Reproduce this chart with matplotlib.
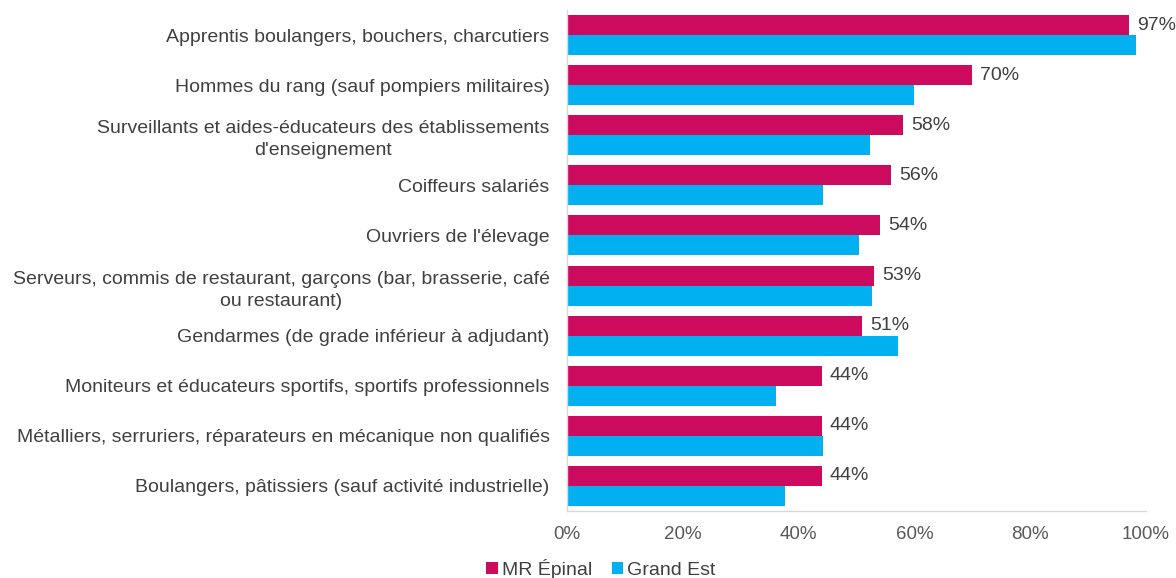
import matplotlib.pyplot as plt
import numpy as np

plt.rcParams['font.family'] = ['Liberation Sans', 'DejaVu Sans']

# données
categories = [
    "Apprentis boulangers, bouchers, charcutiers",
    "Hommes du rang (sauf pompiers militaires)",
    "Surveillants et aides-éducateurs des établissements\nd'enseignement",
    "Coiffeurs salariés",
    "Ouvriers de l'élevage",
    "Serveurs, commis de restaurant, garçons (bar, brasserie, café\nou restaurant)",
    "Gendarmes (de grade inférieur à adjudant)",
    "Moniteurs et éducateurs sportifs, sportifs professionnels",
    "Métalliers, serruriers, réparateurs en mécanique non qualifiés",
    "Boulangers, pâtissiers (sauf activité industrielle)",
]
mr_epinal = [97, 70, 58, 56, 54, 53, 51, 44, 44, 44]
grand_est = [98.3, 59.9, 52.4, 44.2, 50.4, 52.7, 57.2, 36.1, 44.3, 37.7]
series_names = ["MR Épinal", "Grand Est"]

col_mr = '#CC0A5E'
col_ge = '#00B0F0'
txt = '#404040'

fig = plt.figure(figsize=(11.76, 5.78), dpi=100)
ax = fig.add_axes([567/1176, 1 - 511/578, (1146 - 567)/1176, (511 - 10)/578])

y = np.arange(len(categories))
h = 0.4
ax.barh(y - h/2, mr_epinal, height=h, color=col_mr, label=series_names[0])
ax.barh(y + h/2, grand_est, height=h, color=col_ge, label=series_names[1])

for yi, v in zip(y, mr_epinal):
    ax.text(v + 1.4, yi - h/2, f"{v}%", va='center', ha='left', fontsize=14, color=txt)

ax.set_xlim(0, 100)
ax.set_ylim(len(categories) - 0.5, -0.5)
ax.set_xticks(range(0, 101, 20))
ax.set_xticklabels([f"{t}%" for t in range(0, 101, 20)], fontsize=13.5, color='#595959')
ax.set_yticks(y)
ax.set_yticklabels(categories, fontsize=14, color=txt)
for t in ax.get_yticklabels():
    t.set_multialignment('center')
    t.set_linespacing(1.4)
ax.tick_params(axis='both', length=0)
ax.tick_params(axis='y', pad=12.5)
ax.tick_params(axis='x', pad=11)

for s in ['top', 'right']:
    ax.spines[s].set_visible(False)
for s in ['left', 'bottom']:
    ax.spines[s].set_color('#d9d9d9')
    ax.spines[s].set_linewidth(1)

fig.legend(loc='center', bbox_to_anchor=(601/1176, 1 - 569/578), ncol=2, frameon=False,
           fontsize=14, handlelength=0.6, handleheight=0.6, handletextpad=0.2,
           columnspacing=1.0, labelcolor=txt)

fig.savefig('out.png', dpi=100)
